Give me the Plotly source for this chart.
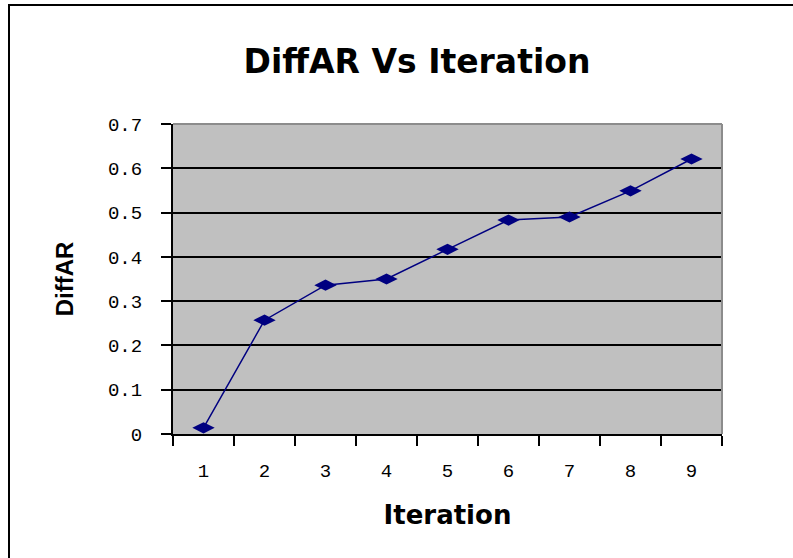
import plotly.graph_objects as go

# data
iterations = ['1', '2', '3', '4', '5', '6', '7', '8', '9']
diff_ar = [0.014, 0.257, 0.336, 0.350, 0.417, 0.483, 0.490, 0.549, 0.621]

y_ticks = [0, 0.1, 0.2, 0.3, 0.4, 0.5, 0.6, 0.7]
y_tick_text = ['0', '0.1', '0.2', '0.3', '0.4', '0.5', '0.6', '0.7']

W, H = 793, 558
L, R, T, B = 173, 722, 124, 434   # plot area in pixels


def px_x(px):
    return (px - L) / (R - L)


def px_y(py):
    return (B - py) / (B - T)


fig = go.Figure()
fig.add_trace(go.Scatter(
    x=iterations, y=diff_ar, mode='lines+markers',
    line=dict(color='#000080', width=1.5),
    marker=dict(symbol='diamond-wide', size=16, color='#000080'),
    showlegend=False,
))

tick_font = dict(family='Liberation Mono, Courier New', size=19, color='black')

fig.update_layout(
    width=W, height=H,
    margin=dict(l=L, r=W - R, t=T, b=H - B, autoexpand=False),
    paper_bgcolor='white',
    plot_bgcolor='#C0C0C0',
    title=dict(
        text='<b>DiffAR Vs Iteration</b>',
        font=dict(family='DejaVu Sans', size=33, color='black'),
        x=417 / W, xref='container', xanchor='center',
        y=1 - 61 / H, yref='container', yanchor='middle',
    ),
    xaxis=dict(
        type='category', tickson='boundaries', range=[-0.5, 8.5],
        ticks='outside', ticklen=10, tickwidth=2, tickcolor='black',
        showline=True, linecolor='black', linewidth=2,
        showgrid=False, tickfont=tick_font, ticklabelstandoff=18,
        title=dict(text='<b>Iteration</b>',
                   font=dict(family='DejaVu Sans', size=26, color='black'),
                   standoff=24),
    ),
    yaxis=dict(
        range=[0, 0.7], tickvals=y_ticks, ticktext=y_tick_text,
        ticks='outside', ticklen=10, tickwidth=2, tickcolor='black',
        showline=True, linecolor='black', linewidth=2,
        showgrid=True, gridcolor='black', gridwidth=1.5, zeroline=False,
        tickfont=tick_font, ticklabelstandoff=15,
        title=dict(text='<b>DiffAR</b>',
                   font=dict(family='Liberation Sans, Arial', size=24, color='black'),
                   standoff=28),
    ),
    shapes=[
        # gray plot area border on top and right
        dict(type='line', xref='paper', yref='paper', x0=0, x1=1, y0=1, y1=1,
             line=dict(color='#8C8C8C', width=2), layer='above'),
        dict(type='line', xref='paper', yref='paper', x0=1, x1=1, y0=0, y1=1,
             line=dict(color='#8C8C8C', width=2), layer='above'),
        # chart frame, runs off the right and bottom edges
        dict(type='rect', xref='paper', yref='paper',
             x0=px_x(9), x1=px_x(W + 20), y0=px_y(5), y1=px_y(H + 20),
             line=dict(color='black', width=2)),
    ],
)

fig.write_html('out.html', config={'displayModeBar': False},
               post_script="document.body.style.margin='0px';"
               "document.body.style.overflow='hidden';")
